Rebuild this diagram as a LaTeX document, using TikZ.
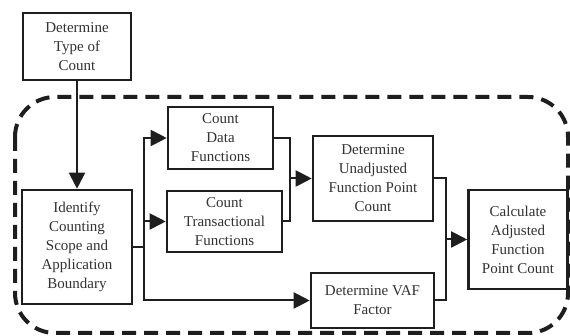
\documentclass[tikz,border=0pt]{standalone}
\usepackage{fontspec}
\setmainfont{Liberation Serif}
\usetikzlibrary{positioning,arrows.meta}
\definecolor{trazo}{RGB}{30,30,30}
\definecolor{texto}{RGB}{50,50,50}

\begin{document}
\begin{tikzpicture}[x=1pt, y=-1pt,
    font=\fontsize{15}{19}\selectfont, >={Triangle[length=16pt,width=16pt]},
    paso/.style={draw=trazo, fill=white, line width=2.6pt, align=center,
                 inner sep=2pt, text=texto},
    flecha/.style={->, trazo, line width=2pt},
    linea/.style={trazo, line width=2pt},
    limite/.style={trazo, line width=4pt, dash pattern=on 14pt off 8pt,
                   rounded corners=40pt}]
  \useasboundingbox (0,0) rectangle (570,336);
  \draw[limite] (15,97) rectangle (568,333);
  \node[paso, minimum width=108pt, minimum height=67pt] (tipo) at (77,46.5) {Determine\\Type of\\Count};
  \node[paso, minimum width=110pt, minimum height=114pt] (alcance) at (77,247) {Identify\\Counting\\Scope and\\Application\\Boundary};
  \node[paso, minimum width=105pt, minimum height=62pt] (datos) at (220.5,138) {Count\\Data\\Functions};
  \node[paso, minimum width=115pt, minimum height=61pt] (trans) at (224.5,221.5) {Count\\Transactional\\Functions};
  \node[paso, minimum width=120pt, minimum height=85pt] (noajust) at (373,178.5) {Determine\\Unadjusted\\Function Point\\Count};
  \node[paso, minimum width=123pt, minimum height=55pt] (vaf) at (372.5,300.5) {Determine VAF\\Factor};
  \node[paso, minimum width=99pt, minimum height=99pt] (ajust) at (518,239.5) {Calculate\\Adjusted\\Function\\Point Count};
  \coordinate (reparto) at (144,247);
  \coordinate (union1) at (290,178.5);
  \coordinate (union2) at (446,239.5);
  \draw[flecha] (tipo.south) -- (alcance.north);
  \draw[linea] (alcance.east) -- (reparto);
  \foreach \n in {datos, trans, vaf} \draw[flecha] (reparto) |- (\n.west);
  \draw[linea] (datos.east) -| (union1);
  \draw[linea] (trans.east) -| (union1);
  \draw[flecha] (union1) -- (noajust.west);
  \draw[linea] (noajust.east) -| (union2);
  \draw[linea] (vaf.east) -| (union2);
  \draw[flecha] (union2) -- (ajust.west);
\end{tikzpicture}
\end{document}
